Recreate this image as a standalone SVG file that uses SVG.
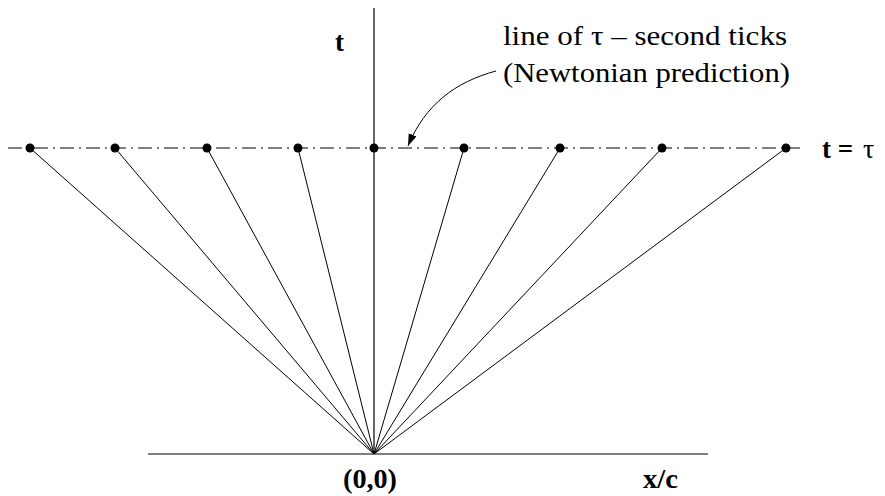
<svg xmlns="http://www.w3.org/2000/svg" width="885" height="496" viewBox="0 0 885 496">
<style>
.ax{stroke:#000;stroke-width:1.2;fill:none}
.ray{stroke:#000;stroke-width:1;fill:none}
.dd{stroke:#000;stroke-width:1;stroke-dasharray:14 5 2 5;fill:none}
.dot{fill:#000}
text{font-family:'Liberation Serif','DejaVu Serif','Times New Roman',serif;fill:#000}
.b{font-weight:bold}
</style>
<defs>
<marker id="ah" viewBox="0 0 10 10" refX="10" refY="5" markerWidth="12" markerHeight="12" markerUnits="userSpaceOnUse" orient="auto">
<path d="M0,1.5 L10,5 L0,8.5 z" fill="#000"/>
</marker>
</defs>
<g id="axes">
<line class="ax" x1="148" y1="454" x2="708" y2="454"/>
<line class="ax" x1="374" y1="8" x2="374" y2="454"/>
</g>
<g id="connectors">
<line class="dd" x1="8" y1="148" x2="800" y2="148"/>
<line class="ray" x1="374" y1="454" x2="30" y2="148"/>
<line class="ray" x1="374" y1="454" x2="115" y2="148"/>
<line class="ray" x1="374" y1="454" x2="207" y2="148"/>
<line class="ray" x1="374" y1="454" x2="298" y2="148"/>
<line class="ray" x1="374" y1="454" x2="464" y2="148"/>
<line class="ray" x1="374" y1="454" x2="560" y2="148"/>
<line class="ray" x1="374" y1="454" x2="662" y2="148"/>
<line class="ray" x1="374" y1="454" x2="786" y2="148"/>
<path class="ray" d="M496,71 C455,82 425,105 408,146" marker-end="url(#ah)"/>
</g>
<g id="dots">
<circle class="dot" cx="30" cy="148" r="4.5"/>
<circle class="dot" cx="115" cy="148" r="4.5"/>
<circle class="dot" cx="207" cy="148" r="4.5"/>
<circle class="dot" cx="298" cy="148" r="4.5"/>
<circle class="dot" cx="374" cy="148" r="4.5"/>
<circle class="dot" cx="464" cy="148" r="4.5"/>
<circle class="dot" cx="560" cy="148" r="4.5"/>
<circle class="dot" cx="662" cy="148" r="4.5"/>
<circle class="dot" cx="786" cy="148" r="4.5"/>
</g>
<g id="labels">
<text class="b" x="335" y="51" font-size="27" font-family="Liberation Serif">t</text>
<text x="503" y="45" font-size="28" font-family="Liberation Serif" textLength="284" lengthAdjust="spacingAndGlyphs">line of τ – second ticks</text>
<text x="503" y="82" font-size="28" font-family="Liberation Serif" textLength="287" lengthAdjust="spacingAndGlyphs">(Newtonian prediction)</text>
<text class="b" x="822" y="158" font-size="27" font-family="Liberation Serif">t =</text>
<text x="863" y="158" font-size="28" font-family="Liberation Serif">τ</text>
<text class="b" x="343" y="488" font-size="27" font-family="Liberation Serif" textLength="54" lengthAdjust="spacingAndGlyphs">(0,0)</text>
<text class="b" x="643" y="488" font-size="27" font-family="Liberation Serif" textLength="35" lengthAdjust="spacingAndGlyphs">x/c</text>
</g>
</svg>
